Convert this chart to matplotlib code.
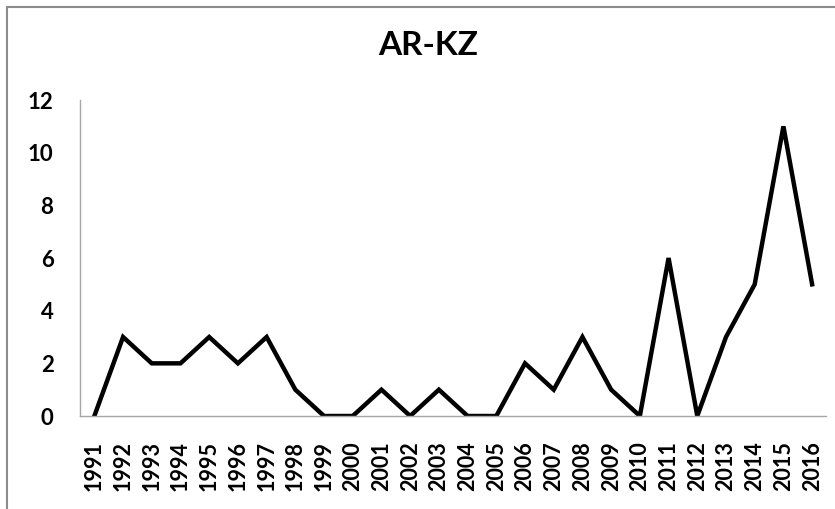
import matplotlib
matplotlib.use("Agg")
import matplotlib.pyplot as plt
from matplotlib.patches import Rectangle

years = [str(y) for y in range(1991, 2017)]
values = [0, 3, 2, 2, 3, 2, 3, 1, 0, 0, 1, 0, 1, 0, 0,
          2, 1, 3, 1, 0, 6, 0, 3, 5, 11, 5]
y_ticks = [0, 2, 4, 6, 8, 10, 12]

plt.rcParams["font.family"] = ["Lato", "DejaVu Sans"]

fig = plt.figure(figsize=(8.35, 5.09), dpi=100)
ax = fig.add_axes([0.0958, 0.1827, 0.894, 0.6208])

x = list(range(len(years)))
ax.plot(x, values, color="black", linewidth=3.2, solid_joinstyle="miter")

ax.set_xlim(-0.5, len(years) - 0.5)
ax.set_ylim(0, 12)
ax.set_yticks(y_ticks)
ax.set_yticklabels([str(v) for v in y_ticks], fontsize=16, fontweight="bold")
ax.set_xticks(x)
ax.set_xticklabels(years, rotation=90, fontsize=15.5, fontweight="bold")
ax.tick_params(axis="both", length=0)
ax.tick_params(axis="y", pad=19)
ax.tick_params(axis="x", pad=18)

for side in ["top", "right"]:
    ax.spines[side].set_visible(False)
for side in ["left", "bottom"]:
    ax.spines[side].set_color("#a6a6a6")
    ax.spines[side].set_linewidth(1.0)

fig.text(0.513, 0.91, "AR-KZ", ha="center", va="center",
         fontsize=24, fontweight="bold")

# outer chart frame (only left/top edges fall inside the picture)
fig.patches.append(Rectangle((7 / 835, -0.1), 1.2, 1.1 - 7 / 509,
                             transform=fig.transFigure, fill=False,
                             edgecolor="#8c8c8c", linewidth=1.5))

fig.savefig("out.png", dpi=100)
